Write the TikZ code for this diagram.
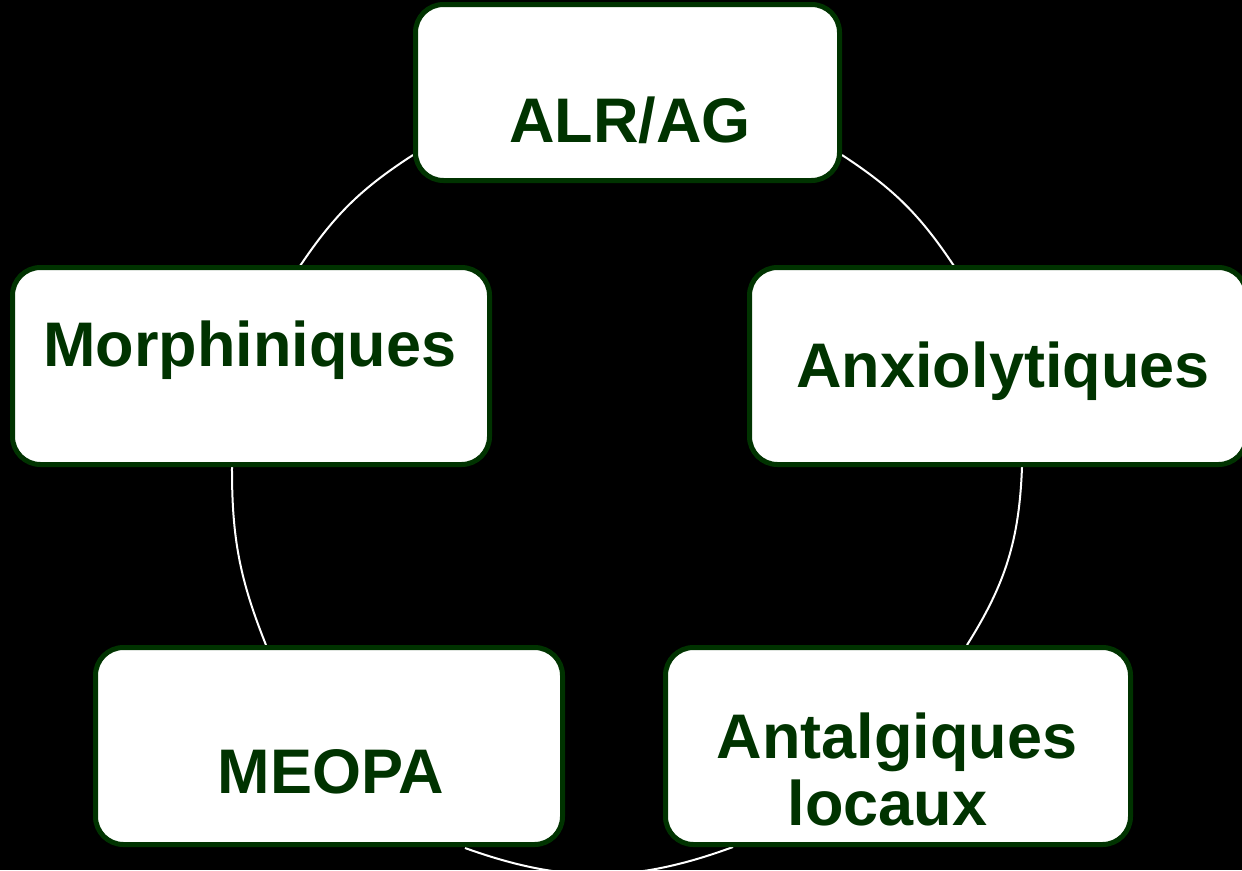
\documentclass[tikz,border=0pt]{standalone}
\usepackage{fontspec}
\setmainfont{Liberation Sans}
\definecolor{dkgreen}{RGB}{0,51,0}
\tikzset{
  box/.style={draw=dkgreen, fill=white, line width=5pt, rounded corners=28pt, inner sep=0pt},
  lbl/.style={anchor=base, inner sep=0pt, text=dkgreen, font=\fontsize{63}{67}\selectfont\bfseries},
  link/.style={draw=white, line width=2pt}
}
\begin{document}
\begin{tikzpicture}[x=1pt,y=-1pt]
\useasboundingbox (0,0) rectangle (1242,870);
\clip (0,0) rectangle (1242,870);
\fill[black] (0,0) rectangle (1242,870);
% arc end points
\coordinate (a1s) at (300,266);
\coordinate (a1e) at (413,155);
\coordinate (a2s) at (842,155);
\coordinate (a2e) at (954,266);
\coordinate (a3s) at (1022,467);
\coordinate (a3e) at (967,645);
\coordinate (a4s) at (733,847);
\coordinate (a4e) at (465,848);
\coordinate (a5s) at (266,645);
\coordinate (a5e) at (232,467);
\draw[link] (a1s) to[bend left=11.6] (a1e);
\draw[link] (a2s) to[bend left=11.6] (a2e);
\draw[link] (a3s) to[bend left=15] (a3e);
\draw[link] (a4s) to[bend left=20] (a4e);
\draw[link] (a5s) to[bend left=11] (a5e);
% boxes
\node[box, minimum width=424pt, minimum height=176pt] (alr) at (627.5,92.5) {};
\node[box, minimum width=477pt, minimum height=197pt] (morph) at (251,366) {};
\node[box, minimum width=497pt, minimum height=197pt] (anx) at (998,366) {};
\node[box, minimum width=467pt, minimum height=197pt] (meopa) at (329,746) {};
\node[box, minimum width=465pt, minimum height=197pt] (antal) at (898,746) {};
% texts
\node[lbl] (talr) at (630,142) {ALR/AG};
\node[lbl] (tmorph) at (250,366) {Morphiniques};
\node[lbl] (tanx) at (1003,387) {Anxiolytiques};
\node[lbl] (tmeopa) at (331,793) {MEOPA};
\node[lbl] (tant1) at (897,758) {Antalgiques};
\node[lbl] (tant2) at (887.5,825) {locaux};
\end{tikzpicture}
\end{document}
